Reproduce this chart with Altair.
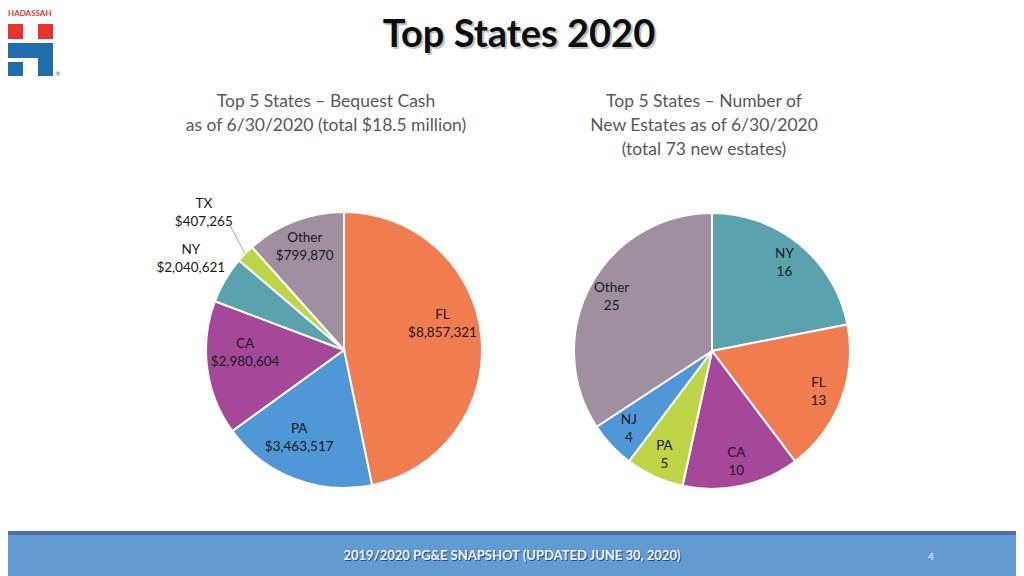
import math
import altair as alt
import pandas as pd

FONT = "Lato"

# ---------------- data ----------------
# Left pie: bequest cash by state (slice sizes as drawn, label text as printed)
cash_states = ["FL", "PA", "CA", "NY", "TX", "Other"]
cash_label_amounts = ["$8,857,321", "$3,463,517", "$2,980,604", "$2,040,621", "$407,265", "$799,870"]
cash_slice_values = [8857321, 3463517, 2980604, 1040000, 407265, 2200000]
cash_colors = ["#F07C50", "#4F97D7", "#A5489A", "#5AA2AE", "#BFD447", "#9F8FA0"]

# Right pie: number of new estates by state
est_states = ["NY", "FL", "CA", "PA", "NJ", "Other"]
est_counts = [16, 13, 10, 5, 4, 25]
est_colors = ["#5AA2AE", "#F07C50", "#A5489A", "#BFD447", "#4F97D7", "#9F8FA0"]

title_text = "Top States 2020"
left_subtitle = ["Top 5 States \u2013 Bequest Cash", "as of 6/30/2020 (total $18.5 million)"]
right_subtitle = ["Top 5 States \u2013 Number of", "New Estates as of 6/30/2020", "(total 73 new estates)"]
footer_text = "2019/2020 PG&E SNAPSHOT (UPDATED JUNE 30, 2020)"
page_number = "4"

W, H = 1008, 568
R = 138

cash_df = pd.DataFrame({
    "i": list(range(len(cash_states))),
    "cat": cash_states,
    "v": cash_slice_values,
    "label": [f"{s}\n{a}" for s, a in zip(cash_states, cash_label_amounts)],
})
est_df = pd.DataFrame({
    "i": list(range(len(est_states))),
    "cat": est_states,
    "v": est_counts,
    "label": [f"{s}\n{c}" for s, c in zip(est_states, est_counts)],
})

one = alt.Data(values=[{"a": 1}])


def pie(df, cx, cy, colors, groups):
    base = alt.Chart(df)
    theta = alt.Theta("v:Q", stack=True)
    order = alt.Order("i:Q")
    arc = base.mark_arc(outerRadius=R, stroke="white", strokeWidth=2).encode(
        theta=theta,
        order=order,
        color=alt.Color("cat:N", scale=alt.Scale(domain=list(df["cat"]), range=colors), legend=None),
        x=alt.value(cx),
        y=alt.value(cy),
    )
    layers = [arc]
    for cats, r, off in groups:
        expr = "indexof(" + str(cats).replace("'", '"') + ", datum.cat) >= 0 ? datum.label : ''"
        t = base.transform_calculate(lab=expr).mark_text(
            radius=r, thetaOffset=off, lineBreak="\n", font=FONT, fontSize=13.5,
            lineHeight=18, dy=-9, color="#1A1A1A", align="center", baseline="middle",
        ).encode(
            theta=theta, order=order, detail="cat:N", text="lab:N",
            x=alt.value(cx), y=alt.value(cy),
        )
        layers.append(t)
    return alt.layer(*layers)


LCX, LCY = 336, 342
RCX, RCY = 704, 343

left = pie(cash_df, LCX, LCY, cash_colors, [
    (["FL"], 102, -0.16),
    (["PA", "CA"], 99, 0.10),
    (["Other"], 110, 0.0),
    (["NY"], 178, 0.0),
    (["TX"], 196, 0.0),
])
right = pie(est_df, RCX, RCY, est_colors, [
    (est_states, 114, 0.0),
])

# leader line for TX label, derived from the TX slice mid-angle
tot = sum(cash_slice_values)
k = cash_states.index("TX")
mid = (sum(cash_slice_values[:k]) + cash_slice_values[k] / 2) / tot * 2 * math.pi
a2 = mid + math.radians(3.5)
lx1, ly1 = LCX + 172 * math.sin(a2), LCY - 172 * math.cos(a2)
lx2, ly2 = LCX + 139 * math.sin(mid), LCY - 139 * math.cos(mid)
leader = alt.Chart(one).mark_rule(color="#A6A6A6", strokeWidth=1).encode(
    x=alt.value(lx1), y=alt.value(ly1), x2=alt.value(lx2), y2=alt.value(ly2)
)


def txt(s, x, y, **kw):
    return alt.Chart(one).mark_text(font=FONT, **kw).encode(
        x=alt.value(x), y=alt.value(y), text=alt.value(s)
    )


def rect(x, x2, y, y2, color):
    return alt.Chart(one).mark_rect(color=color).encode(
        x=alt.value(x), x2=alt.value(x2), y=alt.value(y), y2=alt.value(y2)
    )


deco = [
    # footer bars
    rect(0, W, 523, 527, "#4E6DB2"),
    rect(0, W, 527, H, "#619BD2"),
    txt(footer_text, 505, 549, fontSize=13, fontWeight="bold", color="#2B4A78", align="center", baseline="middle"),
    txt(footer_text, 504, 548, fontSize=13, fontWeight="bold", color="#F4F4F4", align="center", baseline="middle"),
    txt(page_number, 923, 549, fontSize=10, color="#F4F4F4", align="center", baseline="middle"),
    # logo
    txt("HADASSAH", 0, 2, fontSize=8, fontWeight="bold", color="#E0352B", align="left", baseline="top"),
    rect(0, 15, 16, 31, "#E8332A"),
    rect(30, 45, 16, 31, "#E8332A"),
    rect(0, 45, 35, 50, "#1F6DAE"),
    rect(30, 45, 35, 68, "#1F6DAE"),
    rect(0, 15, 54, 68, "#1F6DAE"),
    txt("\u00ae", 50, 66, fontSize=6, color="#1F6DAE", align="center", baseline="middle"),
    # title with shadow
    txt(title_text, 513, 41, fontSize=38, fontWeight="bold", color="#C4C4C4", align="center", baseline="alphabetic"),
    txt(title_text, 511, 39, fontSize=38, fontWeight="bold", color="#0D0D0D", align="center", baseline="alphabetic"),
]
for j, s in enumerate(left_subtitle):
    deco.append(txt(s, 318, 94 + 24 * j, fontSize=17.5, color="#595959", align="center", baseline="middle"))
for j, s in enumerate(right_subtitle):
    deco.append(txt(s, 696, 94 + 24 * j, fontSize=17.5, color="#595959", align="center", baseline="middle"))

chart = alt.layer(left, right, leader, *deco).resolve_scale(
    theta="independent", color="independent"
).properties(
    width=W, height=H, padding=0, autosize=alt.AutoSizeParams(type="none"), background="white"
).configure_view(stroke=None)

chart.save("out.html", embed_options={"renderer": "svg", "actions": False})
